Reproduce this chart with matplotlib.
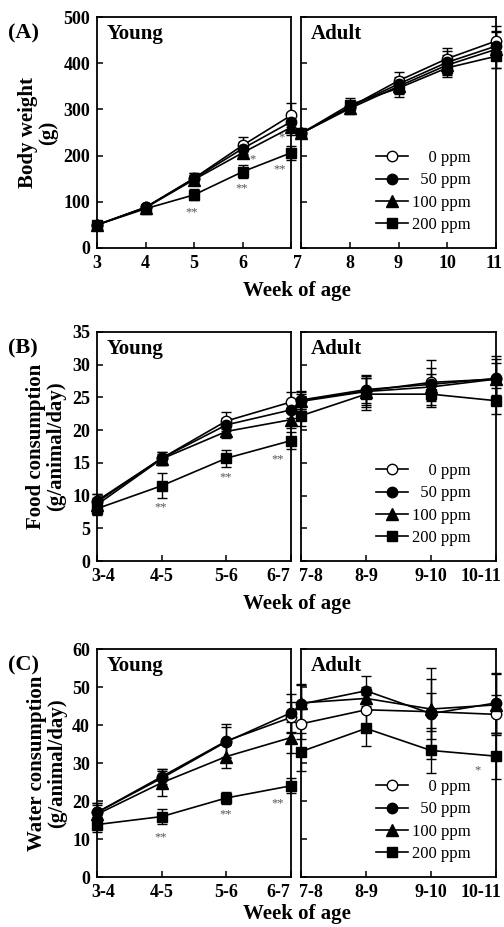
import matplotlib.pyplot as plt
from matplotlib.lines import Line2D
from matplotlib.transforms import ScaledTranslation

plt.rcParams['font.family'] = ['Liberation Serif', 'DejaVu Serif']

dose_labels = ['    0 ppm', '  50 ppm', '100 ppm', '200 ppm']
markers = ['o', 'o', '^', 's']
faces = ['white', 'black', 'black', 'black']

weeks_young = [3, 4, 5, 6, 7]
weeks_adult = [7, 8, 9, 10, 11]
periods_young = ['3-4', '4-5', '5-6', '6-7']
periods_adult = ['7-8', '8-9', '9-10', '10-11']

# (A) body weight, g
bw_young = [[50, 88, 151, 222, 287],
            [50, 88, 150, 215, 273],
            [50, 87, 148, 206, 261],
            [50, 85, 115, 165, 206]]
bw_young_err = [[3, 5, 12, 18, 26],
                [3, 5, 12, 14, 20],
                [3, 5, 10, 12, 16],
                [3, 5, 12, 14, 15]]
bw_adult = [[248, 305, 362, 410, 448],
            [248, 305, 355, 402, 437],
            [248, 302, 350, 396, 430],
            [248, 310, 346, 390, 415]]
bw_adult_err = [[5, 12, 20, 22, 32],
                [5, 12, 16, 25, 30],
                [5, 12, 16, 22, 40],
                [5, 15, 20, 20, 25]]

# (B) food consumption, g/animal/day
food_young = [[9.0, 15.7, 21.4, 24.3],
              [9.2, 15.7, 20.8, 23.1],
              [8.6, 15.6, 19.8, 21.6],
              [8.0, 11.5, 15.7, 18.4]]
food_young_err = [[1.2, 1.0, 1.3, 1.5],
                  [1.0, 1.0, 1.0, 1.3],
                  [1.0, 0.8, 1.0, 1.2],
                  [1.0, 1.9, 1.3, 1.3]]
food_adult = [[24.5, 26.0, 27.3, 27.8],
              [24.6, 26.2, 27.0, 27.9],
              [24.4, 25.9, 26.6, 27.8],
              [22.2, 25.5, 25.5, 24.5]]
food_adult_err = [[1.5, 2.5, 3.4, 3.5],
                  [1.3, 2.0, 2.5, 3.0],
                  [1.2, 2.0, 2.0, 2.5],
                  [1.5, 2.4, 2.0, 2.0]]

# (C) water consumption, g/animal/day
water_young = [[17.0, 26.4, 35.8, 42.0],
               [17.0, 26.0, 35.6, 43.2],
               [16.5, 24.8, 31.7, 36.7],
               [13.8, 15.9, 20.8, 24.0]]
water_young_err = [[2.5, 2.0, 4.5, 4.0],
                   [2.5, 2.0, 4.0, 5.0],
                   [2.5, 3.5, 3.0, 4.0],
                   [2.0, 2.0, 1.5, 2.0]]
water_adult = [[40.3, 44.0, 43.5, 42.8],
               [45.5, 49.0, 43.0, 45.8],
               [45.8, 47.0, 44.2, 45.3],
               [33.0, 39.1, 33.3, 31.8]]
water_adult_err = [[4, 4, 5, 5],
                   [5, 4, 12, 8],
                   [5, 3, 8, 8],
                   [5, 4.5, 6, 6]]

# significance marks: (panel, part, series, point, text, dx px, dy px)
stars = [
    ('A', 'young', 3, 2, '**', -2, -17),
    ('A', 'young', 2, 3, '*', 10, -7),
    ('A', 'young', 3, 3, '**', -1, -17),
    ('A', 'young', 2, 4, '*', -9, -10),
    ('A', 'young', 3, 4, '**', -11, -17),
    ('B', 'young', 3, 1, '**', -1, -22),
    ('B', 'young', 3, 2, '**', -1, -19),
    ('B', 'young', 3, 3, '**', -13, -19),
    ('C', 'young', 3, 1, '**', -1, -21),
    ('C', 'young', 3, 2, '**', -1, -16),
    ('C', 'young', 3, 3, '**', -13, -18),
    ('C', 'adult', 3, 3, '*', -18, -14),
]

W, H = 504, 927
fig = plt.figure(figsize=(W / 100, H / 100), dpi=100)


def px_axes(left, right, top, bottom):
    return fig.add_axes([left / W, 1 - bottom / H, (right - left) / W, (bottom - top) / H])


def style(ax):
    for s in ax.spines.values():
        s.set_linewidth(1.3)
    ax.tick_params(direction='in', length=4, width=1.1, labelsize=13, pad=5)
    for lab in ax.get_xticklabels() + ax.get_yticklabels():
        lab.set_fontweight('bold')


def shift(label, dx):
    label.set_transform(label.get_transform() + ScaledTranslation(dx / 100, 0, fig.dpi_scale_trans))


def msize(i):
    return 8 if markers[i] == '^' else 7.5


def series(ax, xs, vals, errs):
    for i in range(4):
        ax.errorbar(xs, vals[i], yerr=errs[i], color='black', lw=1.2,
                    marker=markers[i], mfc=faces[i], mec='black', mew=1.0,
                    ms=msize(i), elinewidth=1.0, capsize=3.5,
                    capthick=1.0, clip_on=False, zorder=3)


handles = [Line2D([], [], color='black', lw=1.2, marker=markers[i], mfc=faces[i],
                  mec='black', mew=1.0, ms=msize(i)) for i in range(4)]

panels = {}
tops = {'A': (17, 248), 'B': (332, 561), 'C': (649, 877)}
for key in 'ABC':
    top, bot = tops[key]
    ay = px_axes(97, 291, top, bot)
    aa = px_axes(301, 496, top, bot)
    panels[key] = {'young': ay, 'adult': aa}

# panel A
ay, aa = panels['A']['young'], panels['A']['adult']
series(ay, weeks_young, bw_young, bw_young_err)
series(aa, weeks_adult, bw_adult, bw_adult_err)
ay.set_xlim(3, 7)
aa.set_xlim(7, 11)
ay.set_xticks(weeks_young)
ay.set_xticklabels(['3', '4', '5', '6', ''])
aa.set_xticks(weeks_adult)
aa.set_xticklabels(['7', '8', '9', '10', '11'])
for a in (ay, aa):
    a.set_ylim(0, 500)
    a.set_yticks(range(0, 501, 100))
aa.set_yticklabels([])
ay.set_ylabel('Body weight\n(g)', fontsize=15, fontweight='bold', labelpad=4, linespacing=1.0)

# panels B and C
for key, yv, ye, av, ae, ymax, step, ylab in [
        ('B', food_young, food_young_err, food_adult, food_adult_err, 35, 5,
         'Food consumption\n(g/animal/day)'),
        ('C', water_young, water_young_err, water_adult, water_adult_err, 60, 10,
         'Water consumption\n(g/animal/day)')]:
    ay, aa = panels[key]['young'], panels[key]['adult']
    series(ay, range(4), yv, ye)
    series(aa, range(4), av, ae)
    for a, labs in ((ay, periods_young), (aa, periods_adult)):
        a.set_xlim(0, 3)
        a.set_xticks(range(4))
        a.set_xticklabels(labs)
        a.set_ylim(0, ymax)
        a.set_yticks(range(0, ymax + 1, step))
    aa.set_yticklabels([])
    ay.set_ylabel(ylab, fontsize=15, fontweight='bold', labelpad=4, linespacing=1.0)

for key in 'ABC':
    ay, aa = panels[key]['young'], panels[key]['adult']
    style(ay)
    style(aa)
    ay.text(0.05, 0.97, 'Young', transform=ay.transAxes, fontsize=15,
            fontweight='bold', va='top', ha='left')
    aa.text(0.05, 0.97, 'Adult', transform=aa.transAxes, fontsize=15,
            fontweight='bold', va='top', ha='left')
    aa.legend(handles, dose_labels, loc='lower right', frameon=False, fontsize=12,
              handlelength=1.9, handletextpad=0.3, labelspacing=0.38, borderaxespad=0.5,
              bbox_to_anchor=(0.95, 0.0))
    top, bot = tops[key]
    dy = 43 if key != 'C' else 37
    fig.text(297 / W, 1 - (bot + dy) / H, 'Week of age', ha='center', va='center',
             fontsize=15, fontweight='bold')
    fig.text(8 / W, 1 - (top + 16) / H, '(%s)' % key, ha='left', va='center',
             fontsize=16, fontweight='bold')
    if key == 'A':
        lbl = aa.get_xticklabels()
        shift(lbl[0], -4)
        shift(lbl[-1], -2)
    else:
        ly = ay.get_xticklabels()
        la = aa.get_xticklabels()
        shift(ly[0], 6)
        shift(ly[-1], -13)
        shift(la[0], 10)
        shift(la[-1], -15)

for key, part, s, p, txt, dx, dy in stars:
    ax = panels[key][part]
    if key == 'A':
        xs = weeks_young if part == 'young' else weeks_adult
        vals = bw_young if part == 'young' else bw_adult
    else:
        xs = list(range(4))
        src = {'B': (food_young, food_adult), 'C': (water_young, water_adult)}[key]
        vals = src[0] if part == 'young' else src[1]
    ax.annotate(txt, (xs[p], vals[s][p]), xytext=(dx * 0.72, dy * 0.72),
                textcoords='offset points', ha='center', va='center',
                fontsize=9, color='#555555', annotation_clip=False)

fig.savefig('out.png', dpi=100)
